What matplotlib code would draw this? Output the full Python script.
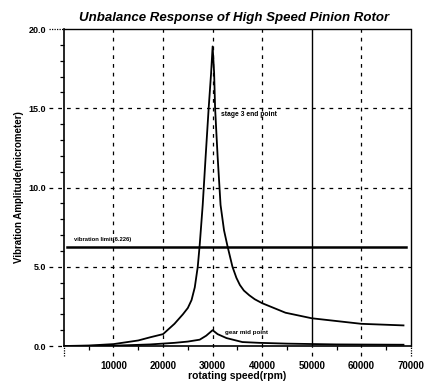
import numpy as np
import matplotlib
matplotlib.use('Agg')
import matplotlib.pyplot as plt
from matplotlib.ticker import MultipleLocator

plt.rcParams['font.family'] = ['Liberation Sans', 'DejaVu Sans']

# stage 3 end point response
speed1 = [0, 5000, 10000, 15000, 17400, 20000, 22300, 24000, 25000, 25750, 26400,
          27000, 27400, 28000, 28600, 29200, 29700, 30000, 30300, 30500, 31000,
          31600, 32300, 33000, 34000, 34800, 35500, 36300, 37400, 38500, 40000,
          44700, 50000, 60000, 68500]
amp1 = [0.0, 0.03, 0.12, 0.35, 0.55, 0.75, 1.4, 2.0, 2.4, 2.9, 3.7,
        5.0, 6.4, 8.9, 12.0, 15.0, 17.25, 18.9, 17.25, 15.0, 12.0,
        8.9, 7.3, 6.3, 5.0, 4.3, 3.85, 3.5, 3.2, 2.95, 2.7,
        2.1, 1.75, 1.4, 1.3]

# gear mid point response
speed2 = [0, 10000, 17400, 22300, 25000, 27400, 28700, 30000, 31000, 32800,
          36000, 39400, 45000, 55000, 68500]
amp2 = [0.0, 0.02, 0.1, 0.2, 0.28, 0.4, 0.65, 1.0, 0.75, 0.5,
        0.25, 0.2, 0.15, 0.1, 0.08]

limit = 6.226
x_ticks = [0, 10000, 20000, 30000, 40000, 50000, 60000, 70000]
x_labels = ['', '10000', '20000', '30000', '40000', '50000', '60000', '70000']
y_ticks = [0.0, 5.0, 10.0, 15.0, 20.0]

fig = plt.figure(figsize=(4.26, 3.86), dpi=100)
ax = fig.add_axes([0.150, 0.1036, 0.8146, 0.8212])

dash = (0, (3, 4))
xt = ax.get_xaxis_transform()
yt = ax.get_yaxis_transform()

# vertical grid, extended below the axis like long ticks
for xv in x_ticks:
    if xv == 50000:
        ax.axvline(xv, color='black', lw=1.0)
        ax.plot([xv, xv], [-0.032, 0], color='black', lw=0.9, ls=dash,
                transform=xt, clip_on=False)
    elif xv in (0, 70000):
        ax.plot([xv, xv], [-0.032, 0], color='black', lw=0.9, ls=(0, (1, 1)),
                transform=xt, clip_on=False)
    else:
        ax.plot([xv, xv], [-0.032, 1], color='black', lw=0.9, ls=dash,
                transform=xt, clip_on=False)

# horizontal grid, extended left of the axis
for yv in y_ticks:
    if yv == 20.0:
        ax.plot([-0.042, 0], [yv, yv], color='black', lw=0.9, ls=(0, (1, 1)),
                transform=yt, clip_on=False)
    else:
        ax.plot([-0.042, 1 if yv > 0 else 0], [yv, yv], color='black', lw=0.9,
                ls=dash, transform=yt, clip_on=False)

ax.plot(speed1, amp1, color='black', lw=1.3)
ax.plot(speed2, amp2, color='black', lw=1.3)
ax.plot([600, 69000], [limit, limit], color='black', lw=1.8)

ax.text(2000, 6.75, 'vibration limit(6.226)', fontsize=4.2, fontweight='bold', va='center')
ax.text(31600, 14.6, 'stage 3 end point', fontsize=4.9, fontweight='bold', va='center')
ax.text(32400, 0.85, 'gear mid point', fontsize=4.5, fontweight='bold', va='center')

ax.set_xlim(0, 70000)
ax.set_ylim(0, 20)
ax.set_xticks(x_ticks)
ax.set_xticklabels(x_labels, fontsize=7, fontweight='bold')
ax.set_yticks(y_ticks)
ax.set_yticklabels(['%.1f' % v for v in y_ticks], fontsize=6.5, fontweight='bold')
ax.xaxis.set_minor_locator(MultipleLocator(5000))
ax.yaxis.set_minor_locator(MultipleLocator(1))
ax.tick_params(which='minor', direction='out', length=3, width=0.9)
ax.tick_params(axis='x', which='major', length=0, pad=11)
ax.tick_params(axis='y', which='major', length=0, pad=13)

for s in ['top', 'right']:
    ax.spines[s].set_linestyle((0, (1, 1)))
    ax.spines[s].set_linewidth(1.0)
ax.spines['left'].set_linewidth(1.2)
ax.spines['bottom'].set_linewidth(1.2)

ax.set_xlabel('rotating speed(rpm)', fontsize=7.5, fontweight='bold', labelpad=0)
ax.set_ylabel('Vibration Amplitude(micrometer)', fontsize=7, fontweight='bold', labelpad=3)
ax.set_title('Unbalance Response of High Speed Pinion Rotor', fontsize=9.5,
             fontweight='bold', style='italic', pad=6, x=0.49)

fig.savefig('out.png', dpi=100)
